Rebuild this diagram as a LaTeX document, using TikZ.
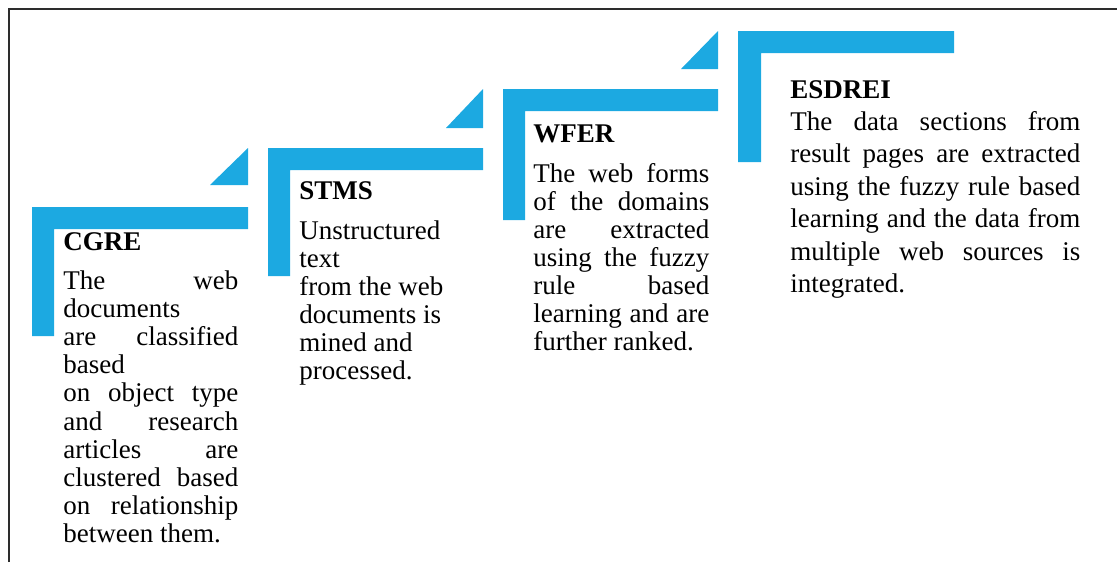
\documentclass[tikz,border=0pt]{standalone}
\usepackage{fontspec}
\setmainfont{Liberation Serif}
\definecolor{stepblue}{RGB}{28,169,225}
\definecolor{framegray}{RGB}{45,45,45}
\newcommand\jline[1]{\makebox[\hsize][s]{#1}\par}
\newcommand\rline[1]{#1\par}
\newcommand\bodyblock[3]{\vtop{\hsize=#1\parindent=0pt\baselineskip=#2\lineskiplimit=-10pt #3}}
\begin{document}
\begin{tikzpicture}[x=0.5pt,y=-0.5pt,
  stepbar/.style={fill=stepblue, draw=none},
  steptitle/.style={anchor=base west, inner sep=0, font=\fontsize{13.5}{14}\selectfont\bfseries},
  stepbody/.style={anchor=base west, inner sep=0, font=\fontsize{13.5}{14}\selectfont}]
\useasboundingbox (0,0) rectangle (1117,562);
% frame (top and left edges only)
\draw[line width=1pt, framegray] (9,562) -- (9,9) -- (1117,9);

% step 1
\fill[stepbar] (32,207) -- (248,207) -- (248,229) -- (54,229) -- (54,336) -- (32,336) -- cycle;
\fill[stepbar] (210,185) -- (248,148) -- (248,185) -- cycle;
% step 2
\fill[stepbar] (268,148) -- (483,148) -- (483,170) -- (290,170) -- (290,276) -- (268,276) -- cycle;
\fill[stepbar] (446,128) -- (483,89) -- (483,128) -- cycle;
% step 3
\fill[stepbar] (503,89) -- (718,89) -- (718,111) -- (525,111) -- (525,220) -- (503,220) -- cycle;
\fill[stepbar] (681,69) -- (718,31) -- (718,69) -- cycle;
% step 4
\fill[stepbar] (738,31) -- (954,31) -- (954,53) -- (761,53) -- (761,162) -- (738,162) -- cycle;

% texts
\node[steptitle] (t1) at (63,250) {CGRE};
\node[stepbody] (b1) at (63,289) {\bodyblock{87.5pt}{14.1pt}{%
  \jline{The web}\rline{documents}\jline{are classified}\rline{based}%
  \jline{on object type}\jline{and research}\jline{articles are}%
  \jline{clustered based}\jline{on relationship}\rline{between them.}}};

\node[steptitle] (t2) at (299,199) {STMS};
\node[stepbody] (b2) at (299,239) {\bodyblock{88pt}{14pt}{%
  \rline{Unstructured}\rline{text}\rline{from the web}\rline{documents is}%
  \rline{mined and}\rline{processed.}}};

\node[steptitle] (t3) at (533,142) {WFER};
\node[stepbody] (b3) at (533,182) {\bodyblock{88pt}{14pt}{%
  \jline{The web forms}\jline{of the domains}\jline{are extracted}%
  \jline{using the fuzzy}\jline{rule based}\jline{learning and are}%
  \rline{further ranked.}}};

\node[steptitle] (t4) at (790,98) {ESDREI};
\node[stepbody] (b4) at (790,130) {\bodyblock{145pt}{16.25pt}{%
  \jline{The data sections from}\jline{result pages are extracted}%
  \jline{using the fuzzy rule based}\jline{learning and the data from}%
  \jline{multiple web sources is}\rline{integrated.}}};
\end{tikzpicture}
\end{document}
